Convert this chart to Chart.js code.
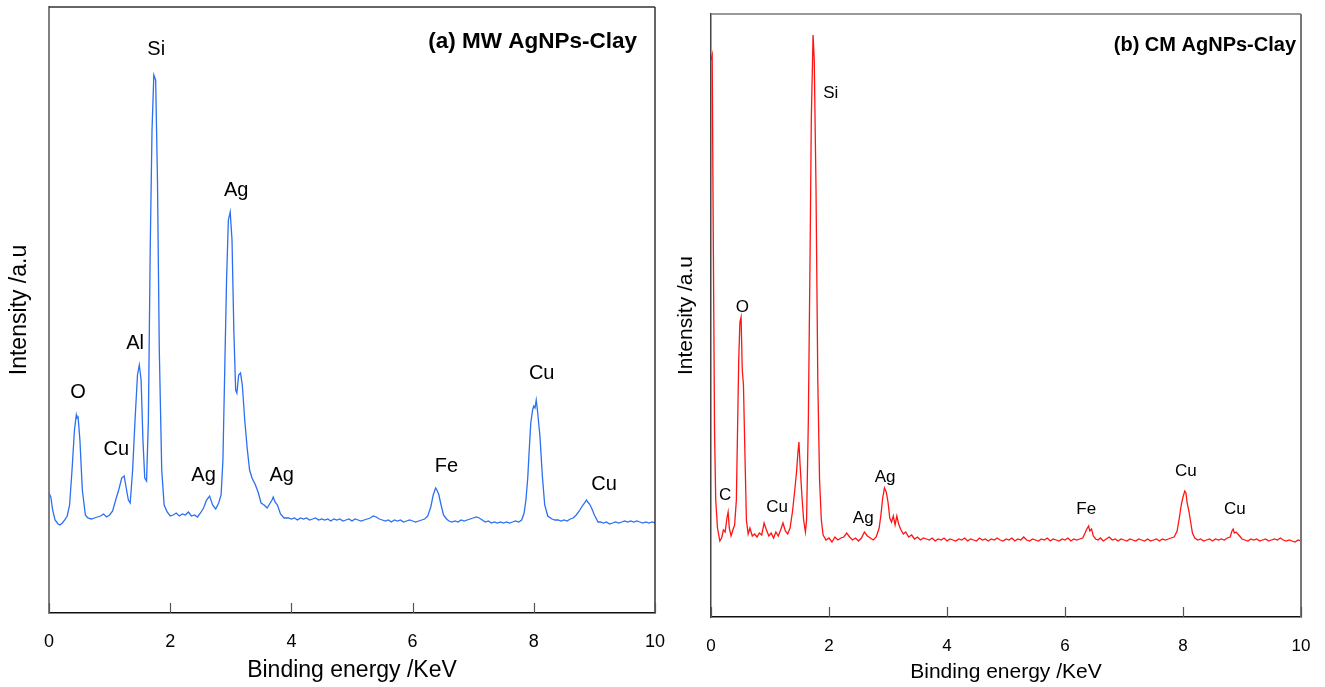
<!DOCTYPE html>
<html>
<head>
<meta charset="utf-8">
<title>EDX spectra AgNPs-Clay</title>
<script src="https://cdn.jsdelivr.net/npm/chart.js@4.4.1/dist/chart.umd.min.js"></script>
<style>
    html, body { margin: 0; padding: 0; background: #fff; }
    #wrap { position: relative; width: 1325px; height: 687px; overflow: hidden; }
    #mwChart { position: absolute; left: 0; top: 0; }
    #cmChart { position: absolute; left: 662px; top: 0; }
</style>
</head>
<body>
<div id="wrap">
    <canvas id="mwChart" width="680" height="687"></canvas>
    <canvas id="cmChart" width="663" height="687"></canvas>
</div>
<script>
// x ticks (keV)
const energyTicks = [0, 2, 4, 6, 8, 10];

// (a) MW AgNPs-Clay spectrum: [keV, intensity a.u.]
const mwSpectrum = [
    [0.00, 120], [0.03, 116], [0.06, 103], [0.10, 93], [0.15, 89], [0.18, 88], [0.22, 90], [0.26, 93],
    [0.30, 97], [0.34, 108], [0.38, 143], [0.42, 183], [0.45, 198], [0.46, 195], [0.48, 196], [0.51, 173],
    [0.55, 123], [0.60, 98], [0.64, 95], [0.70, 94], [0.75, 95], [0.80, 96], [0.85, 97], [0.90, 99],
    [0.95, 96], [1.00, 98], [1.05, 102], [1.10, 113], [1.15, 123], [1.20, 135], [1.24, 137], [1.28, 123],
    [1.31, 113], [1.34, 110], [1.38, 143], [1.42, 193], [1.46, 238], [1.49, 248], [1.52, 233], [1.55, 173],
    [1.58, 135], [1.61, 132], [1.64, 193], [1.67, 363], [1.70, 483], [1.73, 538], [1.76, 533], [1.79, 433],
    [1.82, 263], [1.86, 143], [1.90, 108], [1.95, 101], [2.00, 97], [2.05, 98], [2.10, 100], [2.15, 97],
    [2.20, 99], [2.25, 98], [2.30, 101], [2.35, 97], [2.40, 98], [2.45, 96], [2.50, 100], [2.55, 105],
    [2.60, 113], [2.65, 117], [2.70, 108], [2.75, 104], [2.80, 110], [2.84, 118], [2.87, 153], [2.90, 243],
    [2.93, 333], [2.96, 393], [2.99, 401], [3.02, 373], [3.05, 283], [3.08, 223], [3.10, 220], [3.13, 238],
    [3.16, 240], [3.19, 228], [3.23, 193], [3.27, 165], [3.31, 143], [3.35, 135], [3.40, 129], [3.45, 121],
    [3.50, 110], [3.55, 108], [3.60, 105], [3.64, 109], [3.68, 113], [3.70, 116], [3.73, 111], [3.77, 108],
    [3.82, 99], [3.88, 95], [3.95, 95], [4.00, 94], [4.05, 95], [4.10, 93], [4.15, 95], [4.20, 94],
    [4.25, 95], [4.30, 93], [4.35, 94], [4.40, 95], [4.45, 93], [4.50, 94], [4.55, 93], [4.60, 94],
    [4.65, 92], [4.70, 94], [4.75, 93], [4.80, 94], [4.85, 92], [4.90, 93], [4.95, 94], [5.00, 92],
    [5.05, 94], [5.10, 93], [5.15, 92], [5.20, 93], [5.25, 94], [5.30, 95], [5.35, 97], [5.40, 96],
    [5.45, 94], [5.50, 93], [5.55, 92], [5.60, 93], [5.65, 91], [5.70, 93], [5.75, 92], [5.80, 93],
    [5.85, 91], [5.90, 92], [5.95, 93], [6.00, 92], [6.05, 91], [6.10, 92], [6.15, 93], [6.20, 94],
    [6.25, 97], [6.30, 106], [6.34, 118], [6.38, 125], [6.40, 123], [6.43, 119], [6.47, 108], [6.51, 98],
    [6.56, 94], [6.60, 92], [6.65, 91], [6.70, 92], [6.75, 91], [6.80, 93], [6.85, 92], [6.90, 93],
    [6.95, 94], [7.00, 95], [7.05, 96], [7.10, 95], [7.15, 93], [7.20, 91], [7.25, 92], [7.30, 90],
    [7.35, 91], [7.40, 90], [7.45, 91], [7.50, 90], [7.55, 91], [7.60, 90], [7.65, 91], [7.70, 92],
    [7.75, 91], [7.80, 93], [7.84, 100], [7.87, 113], [7.90, 135], [7.92, 158], [7.95, 190], [7.98, 203],
    [8.00, 207], [8.02, 205], [8.04, 213], [8.06, 203], [8.08, 190], [8.10, 178], [8.14, 138], [8.18, 108],
    [8.23, 97], [8.30, 94], [8.35, 93], [8.40, 93], [8.45, 92], [8.50, 93], [8.55, 92], [8.60, 94],
    [8.65, 95], [8.70, 98], [8.75, 102], [8.80, 107], [8.85, 111], [8.87, 113], [8.89, 111], [8.92, 109],
    [8.96, 104], [9.00, 98], [9.06, 91], [9.10, 91], [9.15, 90], [9.20, 91], [9.25, 89], [9.30, 90],
    [9.35, 91], [9.40, 90], [9.45, 91], [9.50, 92], [9.55, 91], [9.60, 92], [9.65, 91], [9.70, 92],
    [9.75, 91], [9.80, 90], [9.85, 91], [9.90, 90], [9.95, 91], [10.00, 90]
];

// (b) CM AgNPs-Clay spectrum: [keV, intensity a.u.]
const cmSpectrum = [
    [0.00, 557], [0.02, 562], [0.04, 367], [0.06, 187], [0.08, 117], [0.11, 89], [0.15, 76], [0.18, 79],
    [0.21, 87], [0.24, 85], [0.27, 99], [0.29, 105], [0.31, 89], [0.34, 81], [0.37, 87], [0.40, 92],
    [0.43, 117], [0.45, 187], [0.47, 257], [0.49, 295], [0.51, 300], [0.53, 247], [0.55, 232], [0.57, 177],
    [0.60, 97], [0.63, 83], [0.66, 89], [0.70, 81], [0.74, 83], [0.78, 80], [0.82, 84], [0.86, 82],
    [0.90, 94], [0.94, 87], [0.98, 81], [1.02, 84], [1.06, 79], [1.10, 85], [1.14, 81], [1.18, 87],
    [1.22, 94], [1.26, 86], [1.30, 83], [1.34, 89], [1.38, 105], [1.42, 127], [1.45, 145], [1.47, 162],
    [1.49, 175], [1.51, 152], [1.54, 122], [1.57, 97], [1.60, 85], [1.62, 97], [1.65, 197], [1.68, 367],
    [1.70, 497], [1.73, 582], [1.75, 557], [1.78, 427], [1.81, 237], [1.84, 137], [1.87, 97], [1.90, 82],
    [1.95, 77], [2.00, 79], [2.05, 75], [2.10, 80], [2.15, 77], [2.20, 79], [2.25, 80], [2.30, 84],
    [2.35, 80], [2.40, 77], [2.45, 79], [2.50, 76], [2.55, 79], [2.60, 85], [2.65, 81], [2.70, 79],
    [2.75, 77], [2.80, 80], [2.85, 89], [2.88, 102], [2.91, 119], [2.94, 129], [2.97, 125], [3.00, 115],
    [3.03, 99], [3.06, 95], [3.09, 101], [3.12, 92], [3.15, 101], [3.18, 93], [3.22, 87], [3.26, 83],
    [3.30, 85], [3.35, 80], [3.40, 82], [3.45, 78], [3.50, 80], [3.55, 77], [3.60, 79], [3.65, 78],
    [3.70, 77], [3.75, 79], [3.80, 76], [3.85, 78], [3.90, 77], [3.95, 79], [4.00, 76], [4.05, 78],
    [4.10, 77], [4.15, 76], [4.20, 78], [4.25, 77], [4.30, 79], [4.35, 76], [4.40, 78], [4.45, 77],
    [4.50, 76], [4.55, 79], [4.60, 77], [4.65, 78], [4.70, 76], [4.75, 78], [4.80, 77], [4.85, 79],
    [4.90, 77], [4.95, 76], [5.00, 78], [5.05, 77], [5.10, 79], [5.15, 76], [5.20, 78], [5.25, 77],
    [5.30, 80], [5.35, 77], [5.40, 76], [5.45, 78], [5.50, 77], [5.55, 76], [5.60, 78], [5.65, 77],
    [5.70, 79], [5.75, 76], [5.80, 78], [5.85, 77], [5.90, 76], [5.95, 78], [6.00, 77], [6.05, 79],
    [6.10, 76], [6.15, 78], [6.20, 77], [6.25, 78], [6.30, 79], [6.34, 84], [6.37, 88], [6.40, 91],
    [6.42, 86], [6.45, 88], [6.48, 81], [6.52, 78], [6.56, 77], [6.60, 79], [6.65, 76], [6.70, 78],
    [6.75, 80], [6.80, 77], [6.85, 78], [6.90, 76], [6.95, 78], [7.00, 77], [7.05, 76], [7.10, 78],
    [7.15, 77], [7.20, 76], [7.25, 78], [7.30, 77], [7.35, 76], [7.40, 78], [7.45, 76], [7.50, 77],
    [7.55, 78], [7.60, 76], [7.65, 78], [7.70, 77], [7.75, 78], [7.80, 79], [7.85, 80], [7.90, 86],
    [7.94, 100], [7.97, 112], [8.00, 120], [8.03, 126], [8.05, 124], [8.07, 114], [8.10, 106], [8.13, 95],
    [8.16, 84], [8.20, 79], [8.25, 77], [8.30, 78], [8.35, 76], [8.40, 77], [8.45, 78], [8.50, 76],
    [8.55, 78], [8.60, 77], [8.65, 78], [8.70, 77], [8.75, 79], [8.80, 80], [8.83, 86], [8.85, 88],
    [8.87, 84], [8.90, 85], [8.93, 83], [8.96, 81], [9.00, 78], [9.05, 77], [9.10, 76], [9.15, 78],
    [9.20, 77], [9.25, 78], [9.30, 76], [9.35, 77], [9.40, 78], [9.45, 76], [9.50, 77], [9.55, 78],
    [9.60, 77], [9.65, 79], [9.70, 77], [9.75, 76], [9.80, 77], [9.85, 76], [9.90, 75], [9.95, 77],
    [10.00, 76]
];

// peak labels: element, keV, intensity
const mwPeaks = [
    ['Si', 1.77, 564], ['Ag', 3.09, 423], ['Al', 1.42, 270], ['O', 0.48, 221], ['Cu', 1.11, 164],
    ['Ag', 2.55, 138], ['Ag', 3.84, 138], ['Fe', 6.56, 147], ['Cu', 8.13, 240], ['Cu', 9.16, 129]
];
const cmPeaks = [
    ['Si', 2.03, 524], ['O', 0.53, 310], ['C', 0.24, 122], ['Cu', 1.12, 110], ['Ag', 2.58, 99],
    ['Ag', 2.95, 140], ['Fe', 6.36, 108], ['Cu', 8.05, 146], ['Cu', 8.88, 108]
];

const FONT = "'Liberation Sans', Arial, Helvetica, sans-serif";

// draws inward ticks, top/right frame, peak labels and the panel title
const panelDecor = {
    id: 'panelDecor',
    afterDraw(chart, args, opts) {
        const { ctx, chartArea: a, scales } = chart;
        ctx.save();
        // frame
        ctx.lineWidth = opts.frameWidth;
        ctx.strokeStyle = opts.topColor;
        ctx.beginPath();
        ctx.moveTo(a.left, a.top);
        ctx.lineTo(a.right, a.top);
        ctx.stroke();
        ctx.strokeStyle = opts.rightColor;
        ctx.lineWidth = opts.rightWidth;
        ctx.beginPath();
        ctx.moveTo(a.right, a.top);
        ctx.lineTo(a.right, a.bottom);
        ctx.stroke();

        // inward ticks on x axis
        ctx.strokeStyle = '#555';
        ctx.lineWidth = 1.2;
        energyTicks.forEach(function (t) {
            const px = Math.round(scales.x.getPixelForValue(t)) + 0.5;
            ctx.beginPath();
            ctx.moveTo(px, a.bottom);
            ctx.lineTo(px, a.bottom - 10);
            ctx.stroke();
        });

        // peak labels
        ctx.fillStyle = '#000';
        ctx.font = opts.labelSize + 'px ' + FONT;
        ctx.textAlign = 'center';
        ctx.textBaseline = 'middle';
        opts.peaks.forEach(function (p) {
            ctx.fillText(p[0], scales.x.getPixelForValue(p[1]), scales.y.getPixelForValue(p[2]));
        });

        // panel title
        ctx.font = 'bold ' + opts.titleSize + 'px ' + FONT;
        ctx.textAlign = 'right';
        ctx.fillText(opts.title, a.right - opts.titleRight, a.top + opts.titleTop);
        ctx.restore();
    }
};

function makePanel(canvasId, spectrum, color, p) {
    const ctx = document.getElementById(canvasId).getContext('2d');
    return new Chart(ctx, {
        type: 'line',
        data: {
            datasets: [{
                data: spectrum.map(function (d) { return { x: d[0], y: d[1] }; }),
                borderColor: color,
                borderWidth: 1.3,
                pointRadius: 0,
                tension: 0,
                fill: false
            }]
        },
        plugins: [panelDecor],
        options: {
            responsive: false,
            animation: false,
            devicePixelRatio: 1,
            layout: { padding: { top: p.top, right: p.right, left: 0, bottom: 0 } },
            scales: {
                x: {
                    type: 'linear',
                    min: 0,
                    max: 10,
                    afterBuildTicks: function (scale) {
                        scale.ticks = energyTicks.map(function (v) { return { value: v }; });
                    },
                    afterFit: function (scale) {
                        scale.height = p.xHeight;
                        scale.paddingLeft = 0;
                        scale.paddingRight = 0;
                    },
                    grid: { display: false, drawTicks: false },
                    border: { display: true, color: '#111', width: 1.5 },
                    ticks: {
                        color: '#000',
                        padding: p.tickPad,
                        maxRotation: 0,
                        autoSkip: false,
                        font: { family: FONT, size: p.tickSize }
                    },
                    title: {
                        display: true,
                        text: 'Binding energy /KeV',
                        color: '#000',
                        padding: { top: 0, bottom: p.xTitlePad },
                        font: { family: FONT, size: p.axisTitleSize }
                    }
                },
                y: {
                    type: 'linear',
                    min: 0,
                    max: p.yMax,
                    afterFit: function (scale) { scale.width = 49; },
                    grid: { display: false, drawTicks: false },
                    border: { display: true, color: p.leftColor, width: p.leftWidth },
                    ticks: { display: false },
                    title: {
                        display: true,
                        text: 'Intensity /a.u',
                        color: '#000',
                        padding: { top: p.yTitlePad, bottom: 0 },
                        font: { family: FONT, size: p.axisTitleSize }
                    }
                }
            },
            plugins: {
                legend: { display: false },
                tooltip: { enabled: false },
                panelDecor: {
                    peaks: p.peaks,
                    title: p.title,
                    titleSize: p.titleSize,
                    titleRight: p.titleRight,
                    titleTop: p.titleTop,
                    labelSize: p.labelSize,
                    frameWidth: 1.5,
                    topColor: p.topColor,
                    rightColor: p.rightColor,
                    rightWidth: p.rightWidth
                }
            }
        }
    });
}

// (a) microwave sample
makePanel('mwChart', mwSpectrum, '#2b6ff2', {
    top: 7, right: 25, xHeight: 74, yMax: 606,
    tickPad: 18, tickSize: 18, axisTitleSize: 23, xTitlePad: 3, yTitlePad: 6,
    leftColor: '#808080', leftWidth: 2, topColor: '#333', rightColor: '#333', rightWidth: 1.5,
    peaks: mwPeaks, labelSize: 20,
    title: '(a) MW AgNPs-Clay', titleSize: 22.5, titleRight: 18, titleTop: 35
});

// (b) conventional sample
makePanel('cmChart', cmSpectrum, '#ff1414', {
    top: 14, right: 24, xHeight: 70, yMax: 603,
    tickPad: 19, tickSize: 17, axisTitleSize: 21, xTitlePad: 2, yTitlePad: 12,
    leftColor: '#444', leftWidth: 1.5, topColor: '#777', rightColor: '#777', rightWidth: 2,
    peaks: cmPeaks, labelSize: 17,
    title: '(b) CM AgNPs-Clay', titleSize: 20, titleRight: 5, titleTop: 31
});
</script>
</body>
</html>
